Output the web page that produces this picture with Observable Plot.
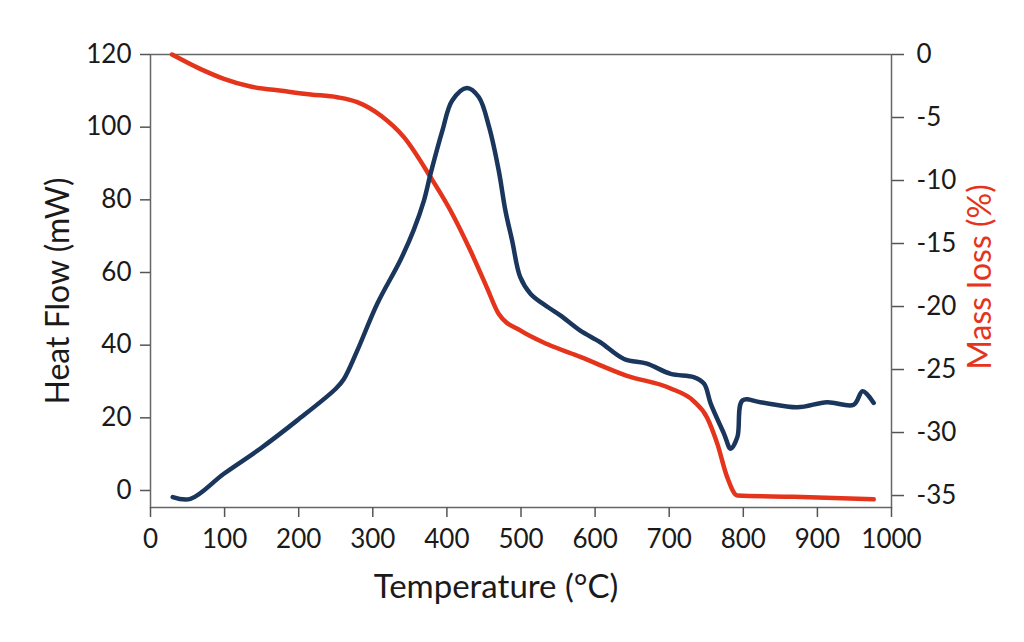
<!DOCTYPE html>
<html>
<head>
<meta charset="utf-8">
<script src="https://cdn.jsdelivr.net/npm/d3@7"></script>
<script src="https://cdn.jsdelivr.net/npm/@observablehq/plot@0.6"></script>
<style>
  html, body { margin: 0; padding: 0; background: #fff; }
  #chart svg { font-family: Lato, "Noto Sans", sans-serif; }
  #chart svg [aria-label$="tick label"] text { font-size: 26px; fill: #1a1a1a; }
</style>
</head>
<body>
<div id="chart"></div>
<script>
// Heat flow (mW) vs temperature (°C)
const heatT = [30, 54, 99, 148, 198, 250, 261, 279, 306, 337, 355, 369, 378, 394, 407, 427, 443, 457, 470, 479, 488, 499, 513, 536, 553, 580, 607, 639, 670, 702, 733, 747, 756, 774, 783, 792, 799, 823, 873, 913, 949, 961, 976];
const heatH = [-1.8, -2.3, 4.6, 11.5, 19.3, 28, 30.7, 38.5, 51.4, 63.3, 71.6, 79.8, 87.2, 99.1, 107.3, 110.8, 108.3, 100, 88, 77, 68.8, 58.7, 54.1, 50.5, 48.2, 44, 40.8, 36.2, 34.9, 32.1, 31.2, 29.4, 23.9, 15.6, 11.5, 14.7, 24.8, 24.3, 22.9, 24.3, 23.6, 27.3, 24.1];

// Mass loss (%) vs temperature (°C)
const massT = [29, 67, 99, 135, 180, 216, 252, 279, 312, 342, 378, 405, 432, 454, 470, 499, 536, 580, 643, 702, 733, 751, 765, 778, 792, 868, 976];
const massM = [0, -1.14, -1.93, -2.54, -2.9, -3.17, -3.39, -3.78, -4.9, -6.56, -9.74, -12.4, -15.6, -18.5, -20.6, -21.9, -23.0, -24.0, -25.5, -26.5, -27.5, -28.8, -30.9, -33.5, -35.0, -35.1, -35.3];

const xTicks = [0, 100, 200, 300, 400, 500, 600, 700, 800, 900, 1000];
const leftTicks = [0, 20, 40, 60, 80, 100, 120];
const rightTicks = [0, -5, -10, -15, -20, -25, -30, -35];

const leftDomain = [-4.68, 120];
const rightDomain = [-35.95, 0];
// map mass loss onto the heat-flow scale
const toH = m => leftDomain[0] + (m - rightDomain[0]) * (leftDomain[1] - leftDomain[0]) / (rightDomain[1] - rightDomain[0]);
const fromH = h => rightDomain[0] + (h - leftDomain[0]) * (rightDomain[1] - rightDomain[0]) / (leftDomain[1] - leftDomain[0]);

const heat = heatT.map((t, i) => ({t, v: heatH[i]}));
const mass = massT.map((t, i) => ({t, v: toH(massM[i])}));

const blue = "#1b365d";
const red = "#e5341c";

const chart = Plot.plot({
  width: 1024,
  height: 642,
  marginLeft: 150,
  marginRight: 133,
  marginTop: 54,
  marginBottom: 135,
  x: {domain: [0, 1000]},
  y: {domain: leftDomain},
  marks: [
    Plot.frame({stroke: "#666", strokeWidth: 1.5}),
    Plot.axisX({ticks: xTicks, tickSize: 10, tickPadding: 12, label: null, stroke: "#555", strokeWidth: 1.5, tickFormat: d => String(d)}),
    Plot.axisY({ticks: leftTicks, tickSize: 10, tickPadding: 9, label: null, stroke: "#555", strokeWidth: 1.5, tickFormat: d => String(d)}),
    Plot.axisY({anchor: "right", ticks: rightTicks.map(toH), tickSize: 12, tickPadding: 13, label: null, stroke: "#555", strokeWidth: 1.5,
      tickFormat: h => { const m = Math.round(fromH(h)); return m < 0 ? "-" + Math.abs(m) : String(m); }}),
    Plot.line(mass, {x: "t", y: "v", stroke: red, strokeWidth: 4.5, curve: "monotone-x"}),
    Plot.line(heat, {x: "t", y: "v", stroke: blue, strokeWidth: 4.5, curve: "catmull-rom"}),
    Plot.text(["Heat Flow (mW)"], {frameAnchor: "left", textAnchor: "middle", lineAnchor: "middle", dx: -92, dy: 10, rotate: -90, fontSize: 32, fill: "#1a1a1a"}),
    Plot.text(["Mass loss (%)"], {frameAnchor: "right", textAnchor: "middle", lineAnchor: "middle", dx: 89, dy: -4, rotate: -90, fontSize: 32, fill: red}),
    Plot.text(["Temperature (°C)"], {frameAnchor: "bottom", textAnchor: "middle", lineAnchor: "middle", dx: -25, dy: 80, fontSize: 33, fill: "#1a1a1a"})
  ]
});
document.getElementById("chart").append(chart);
</script>
</body>
</html>
